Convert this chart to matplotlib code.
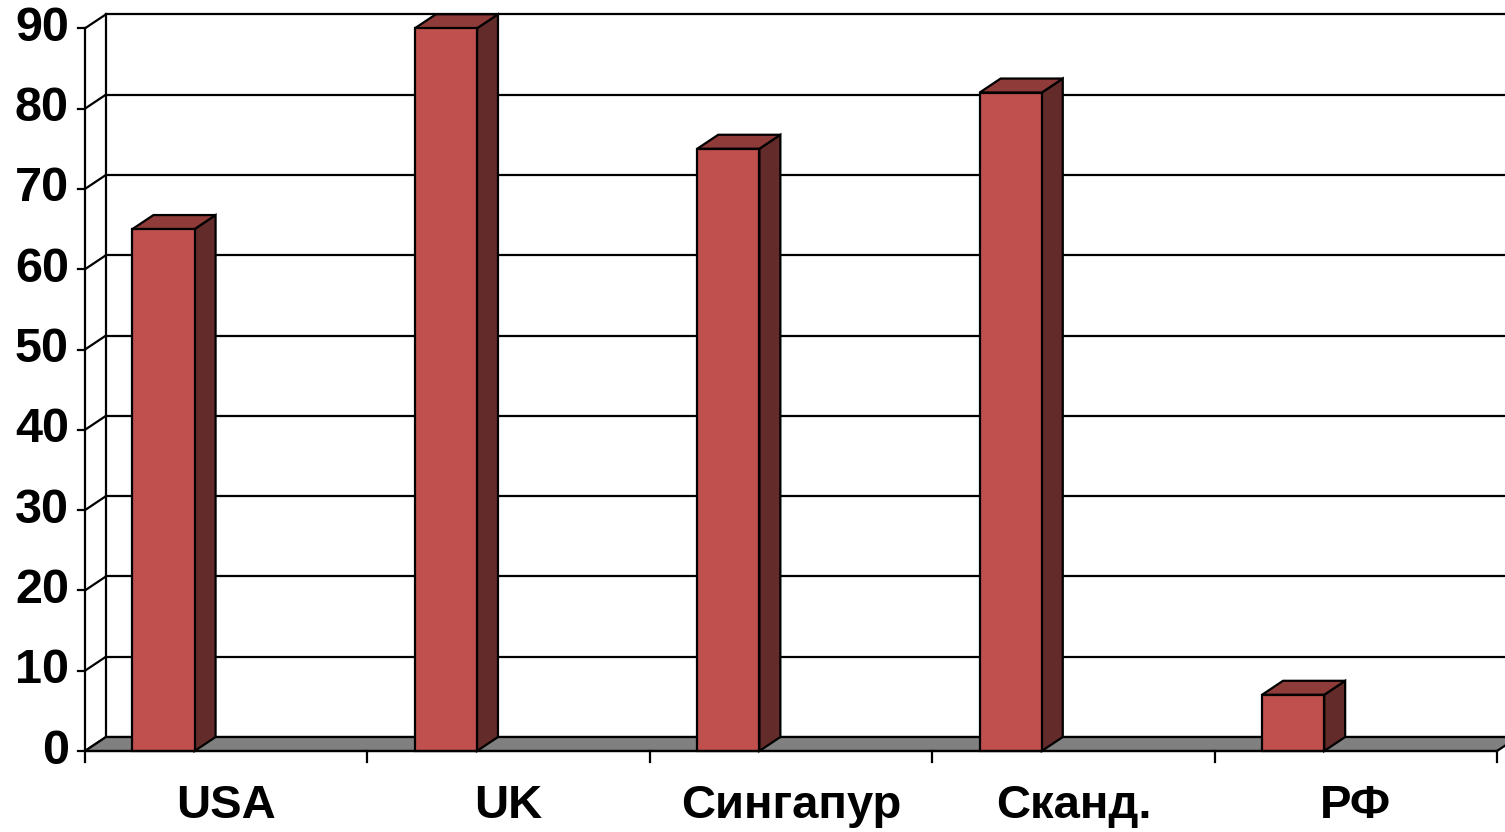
import matplotlib
matplotlib.use("Agg")
import matplotlib.pyplot as plt
from matplotlib.patches import Polygon

categories = ["USA", "UK", "Сингапур", "Сканд.", "РФ"]
values = [65, 90, 75, 82, 7]
yticks = [0, 10, 20, 30, 40, 50, 60, 70, 80, 90]

plt.rcParams['font.family'] = ['Liberation Sans', 'DejaVu Sans']

W, H = 1505, 832
fig = plt.figure(figsize=(W / 100, H / 100), dpi=100)
ax = fig.add_axes([0, 0, 1, 1])
ax.axis('off')

# pixel geometry
x0_px, cat_px = 85, 282.4
y0_px, unit_px = 751, 8.03
ax.set_xlim(-x0_px / cat_px, (W - x0_px) / cat_px)
ax.set_ylim(-(H - y0_px) / unit_px, y0_px / unit_px)

dx = 21 / cat_px      # depth offset in category units
dy = 14 / unit_px     # depth offset in value units
n = len(categories)
ymax = yticks[-1]
xr = ax.get_xlim()[1] + 0.2
lw = 1.6

# back wall gridlines
for t in yticks:
    ax.plot([dx, xr], [t + dy, t + dy], color='black', lw=lw, zorder=1)
    ax.plot([0, dx], [t, t + dy], color='black', lw=lw, zorder=1)
ax.plot([dx, dx], [dy, ymax + dy], color='black', lw=lw, zorder=1)

# floor
floor = Polygon([(0, 0), (n, 0), (n + dx, dy), (dx, dy)], closed=True,
                facecolor='#808080', edgecolor='black', lw=lw, zorder=2)
ax.add_patch(floor)

# bars
off, bw = 0.168, 0.22
front_c, top_c, side_c = '#C0504D', '#8E3B39', '#632B29'
for i, v in enumerate(values):
    a = i + off
    b = a + bw
    side = Polygon([(b, 0), (b + dx, dy), (b + dx, v + dy), (b, v)], closed=True,
                   facecolor=side_c, edgecolor='black', lw=lw, zorder=3)
    top = Polygon([(a, v), (b, v), (b + dx, v + dy), (a + dx, v + dy)], closed=True,
                  facecolor=top_c, edgecolor='black', lw=lw, zorder=3)
    ax.add_patch(side)
    ax.add_patch(top)
ax.bar([i + off for i in range(n)], values, width=bw, align='edge',
       color=front_c, edgecolor='black', lw=lw, zorder=4)

# front axes
tick_len_x = 7 / cat_px
tick_len_y = 11 / unit_px
ax.plot([0, 0], [-tick_len_y, ymax], color='black', lw=lw, zorder=5)
ax.plot([0, n], [0, 0], color='black', lw=lw, zorder=5)
for t in yticks:
    ax.plot([-tick_len_x, 0], [t, t], color='black', lw=lw, zorder=5)
    ax.text(-16 / cat_px, t, str(t), ha='right', va='center',
            fontsize=35, fontweight='bold', zorder=5)
for i in range(1, n + 1):
    ax.plot([i, i], [0, -tick_len_y], color='black', lw=lw, zorder=5)
for i, c in enumerate(categories):
    ax.text(i + 0.5, -55 / unit_px, c, ha='center', va='center',
            fontsize=34, fontweight='bold', zorder=5)

fig.savefig('out.png', dpi=100)
